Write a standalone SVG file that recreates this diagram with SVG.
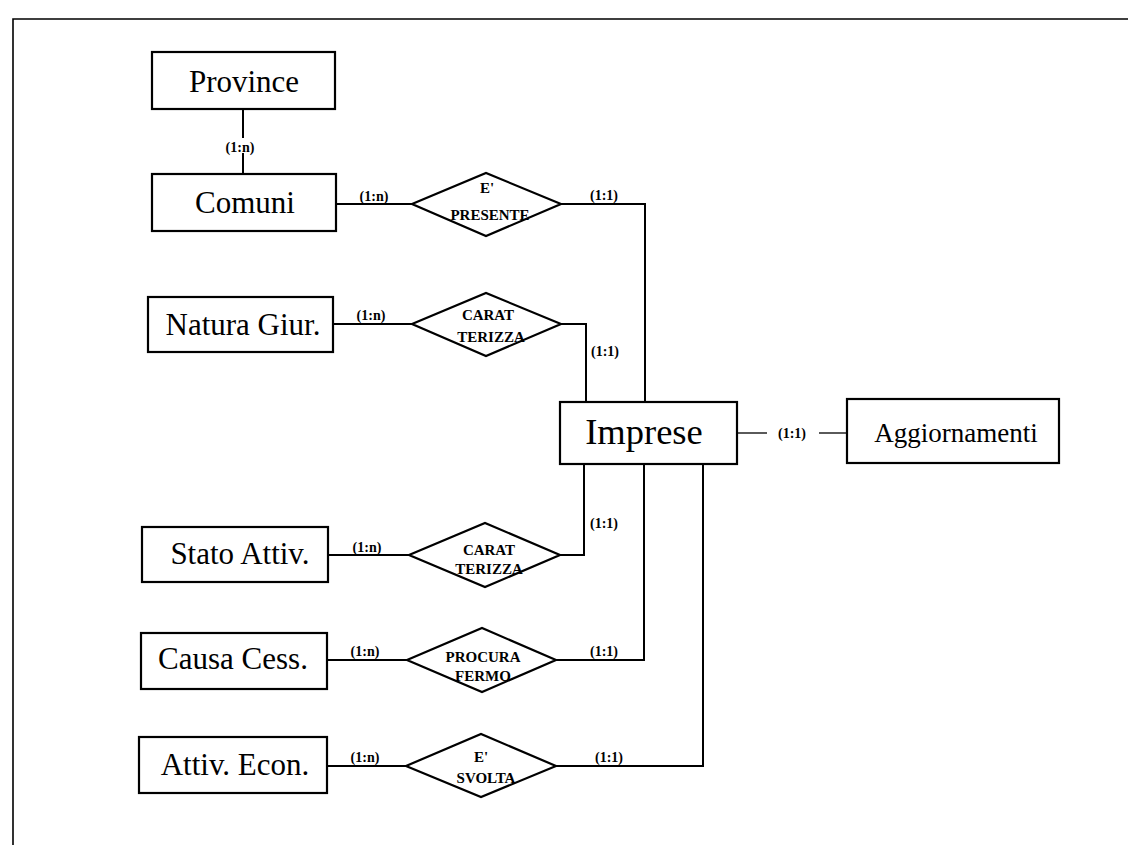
<svg xmlns="http://www.w3.org/2000/svg" width="1128" height="845" viewBox="0 0 1128 845">
<style>
.ent{fill:#fff;stroke:#000;stroke-width:2.2}
.rel{fill:#fff;stroke:#000;stroke-width:2.2;stroke-linejoin:miter}
.et{font-family:"Liberation Serif","Times New Roman",serif;font-size:31px;fill:#000;text-anchor:middle}
.big{font-size:36.5px}
.agg{font-size:27px}
.rt{font-family:"Liberation Serif","Times New Roman",serif;font-size:15px;font-weight:bold;fill:#000;text-anchor:middle}
.ct{font-family:"Liberation Serif","Times New Roman",serif;font-size:14px;font-weight:bold;fill:#000;text-anchor:middle}
.ln{fill:none;stroke:#000;stroke-width:2}
.thin{fill:none;stroke:#000;stroke-width:1.3}
.frame{fill:none;stroke:#000;stroke-width:1.6}
</style>
<rect x="0" y="0" width="1128" height="845" fill="#fff"/>
<path class="frame" d="M13,845 L13,19 L1128,19"/>
<g id="connectors">
<path class="ln" d="M243,109 L243,138"/>
<path class="ln" d="M243,153 L243,174"/>
<text class="ct" x="240" y="152">(1:n)</text>
<path class="ln" d="M336,204 L412,204"/>
<text class="ct" x="374" y="201">(1:n)</text>
<path class="ln" d="M561,204 L645,204 L645,402"/>
<text class="ct" x="604" y="200">(1:1)</text>
<path class="ln" d="M333,324 L412,324"/>
<text class="ct" x="371" y="320">(1:n)</text>
<path class="ln" d="M561,324 L586,324 L586,402"/>
<text class="ct" x="605" y="356">(1:1)</text>
<path class="thin" d="M737,433 L767,433"/>
<path class="thin" d="M819,433 L847,433"/>
<text class="ct" x="792" y="438">(1:1)</text>
<path class="ln" d="M328,555 L409,555"/>
<text class="ct" x="367" y="552">(1:n)</text>
<path class="ln" d="M560,555 L584,555 L584,464"/>
<text class="ct" x="604" y="528">(1:1)</text>
<path class="ln" d="M327,660 L407,660"/>
<text class="ct" x="365" y="656">(1:n)</text>
<path class="ln" d="M556,660 L644,660 L644,464"/>
<text class="ct" x="604" y="656">(1:1)</text>
<path class="ln" d="M327,766 L406,766"/>
<text class="ct" x="365" y="762">(1:n)</text>
<path class="ln" d="M556,766 L703,766 L703,464"/>
<text class="ct" x="609" y="762">(1:1)</text>
</g>
<g id="province">
<rect class="ent" x="152" y="52" width="183" height="57"/>
<text class="et" x="244" y="92">Province</text>
</g>
<g id="comuni">
<rect class="ent" x="152" y="174" width="184" height="57"/>
<text class="et" x="245" y="213">Comuni</text>
</g>
<g id="natura">
<rect class="ent" x="148" y="297" width="185" height="55"/>
<text class="et" x="243" y="335">Natura Giur.</text>
</g>
<g id="stato">
<rect class="ent" x="142" y="527" width="186" height="55"/>
<text class="et" x="240" y="564">Stato Attiv.</text>
</g>
<g id="causa">
<rect class="ent" x="141" y="633" width="186" height="56"/>
<text class="et" x="233" y="669">Causa Cess.</text>
</g>
<g id="attiv">
<rect class="ent" x="139" y="737" width="188" height="56"/>
<text class="et" x="235" y="775">Attiv. Econ.</text>
</g>
<g id="imprese">
<rect class="ent" x="560" y="402" width="177" height="62"/>
<text class="et big" x="644" y="444">Imprese</text>
</g>
<g id="aggiornamenti">
<rect class="ent" x="847" y="399" width="212" height="64"/>
<text class="et agg" x="956" y="442">Aggiornamenti</text>
</g>
<g id="rel-presente">
<polygon class="rel" points="412,204 486,173 561,204 486,236"/>
<text class="rt" x="487" y="193">E'</text>
<text class="rt" x="490" y="220">PRESENTE</text>
</g>
<g id="rel-caratterizza1">
<polygon class="rel" points="412,324 486,293 561,324 486,356"/>
<text class="rt" x="488" y="320">CARAT</text>
<text class="rt" x="491" y="342">TERIZZA</text>
</g>
<g id="rel-caratterizza2">
<polygon class="rel" points="409,555 485,523 560,555 485,587"/>
<text class="rt" x="489" y="555">CARAT</text>
<text class="rt" x="489" y="574">TERIZZA</text>
</g>
<g id="rel-procura">
<polygon class="rel" points="407,660 482,628 556,660 482,692"/>
<text class="rt" x="483" y="662">PROCURA</text>
<text class="rt" x="483" y="681">FERMO</text>
</g>
<g id="rel-svolta">
<polygon class="rel" points="406,766 481,734 556,766 481,797"/>
<text class="rt" x="481" y="762">E'</text>
<text class="rt" x="486" y="783">SVOLTA</text>
</g>
</svg>
